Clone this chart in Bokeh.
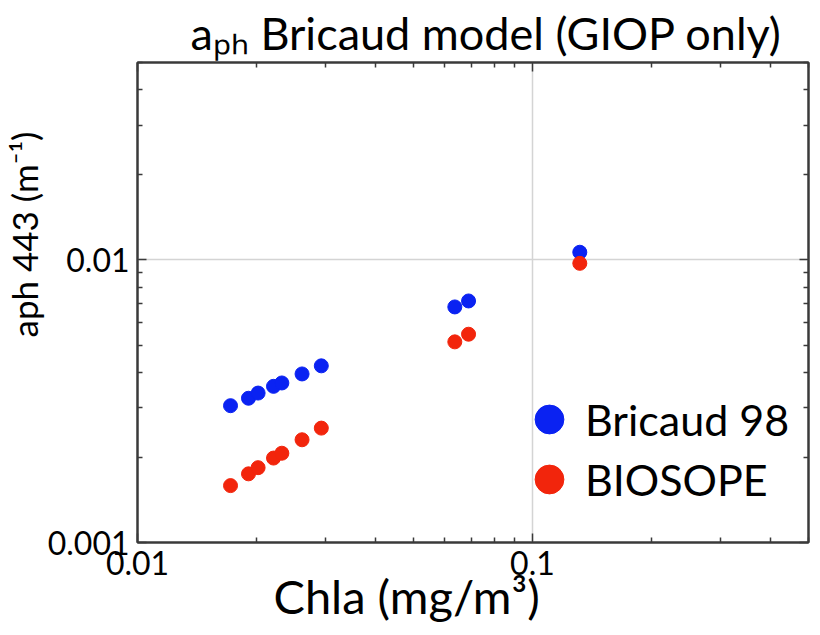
from bokeh.embed import file_html
from bokeh.models import (ColumnDataSource, FixedTicker, Legend, LegendItem,
                          LogAxis, Range1d, Title, CustomJSTickFormatter)
from bokeh.plotting import figure
from bokeh.resources import INLINE

# Chlorophyll concentration (mg/m^3) and phytoplankton absorption at 443 nm (1/m)
chla = [0.0172, 0.0191, 0.0202, 0.0221, 0.0232, 0.0261, 0.0292, 0.0636, 0.0689, 0.1318]
aph_bricaud98 = [0.00305, 0.00324, 0.00338, 0.00357, 0.00367, 0.00395, 0.00422,
                 0.00682, 0.00716, 0.01065]
aph_biosope = [0.00159, 0.00175, 0.00184, 0.00199, 0.00207, 0.00231, 0.00254,
               0.00513, 0.00546, 0.00973]

series_names = ["Bricaud 98", "BIOSOPE"]
series_colors = ["#0a22f2", "#f2250c"]

x_tick_values = [0.01, 0.1]
x_tick_labels = ["0.01", "0.1"]
y_tick_values = [0.001, 0.01]
y_tick_labels = ["0.001", "0.01"]

X_MIN, X_MAX = 0.01, 0.5
Y_MIN, Y_MAX = 0.001, 0.05

FONT = "Lato"
FRAME_COLOR = "#3a3a3a"

# decade ticks with minor ticks at 2..9 of each decade
decades = [0.0001, 0.001, 0.01, 0.1, 1.0]
minor_ticks = [d * m for d in decades for m in range(2, 10)]

p = figure(
    width=820, height=635,
    min_border_left=137, min_border_right=12,
    min_border_top=61, min_border_bottom=93,
    x_axis_type="log", y_axis_type="log",
    x_range=Range1d(X_MIN, X_MAX), y_range=Range1d(Y_MIN, Y_MAX),
    output_backend="svg", toolbar_location=None,
)
p.background_fill_color = "white"
p.border_fill_color = "white"
p.outline_line_color = FRAME_COLOR
p.outline_line_width = 2

# plot title, subscript written with unicode subscript letters
p.title.text = "a\u209a\u2095 Bricaud model (GIOP only)"
p.title.align = "left"
p.title.offset = 53
p.title.standoff = 6
p.title.text_font = FONT
p.title.text_font_size = "45px"
p.title.text_font_style = "normal"
p.title.text_color = "black"

# grid lines only at the decade marks
p.xgrid.ticker = FixedTicker(ticks=[0.1])
p.ygrid.ticker = FixedTicker(ticks=[0.01])
for g in (p.xgrid, p.ygrid):
    g.grid_line_color = "#d4d4d4"
    g.grid_line_width = 1.5

plain = CustomJSTickFormatter(code="return ''")


def style_axis(ax):
    ax.ticker = FixedTicker(ticks=decades, minor_ticks=minor_ticks)
    ax.formatter = plain
    ax.axis_line_color = FRAME_COLOR
    ax.axis_line_width = 2
    ax.major_tick_line_color = FRAME_COLOR
    ax.minor_tick_line_color = FRAME_COLOR
    ax.major_tick_line_width = 1.5
    ax.minor_tick_line_width = 1.5
    ax.major_tick_in = 9
    ax.major_tick_out = 0
    ax.minor_tick_in = 5
    ax.minor_tick_out = 0
    ax.major_label_text_font = FONT
    ax.major_label_text_color = "black"


xax = p.xaxis[0]
yax = p.yaxis[0]
for ax in (xax, yax):
    style_axis(ax)
    ax.major_label_text_font_size = "32px"

xax.major_label_overrides = dict(zip(x_tick_values, x_tick_labels))
xax.major_label_standoff = 8
yax.major_label_overrides = dict(zip(y_tick_values, y_tick_labels))
yax.major_label_standoff = 8

top_axis = LogAxis()
right_axis = LogAxis()
for ax in (top_axis, right_axis):
    style_axis(ax)
    ax.major_label_text_font_size = "0px"
    ax.major_label_standoff = 0
p.add_layout(top_axis, "above")
p.add_layout(right_axis, "right")

# axis titles
p.add_layout(Title(text="Chla (mg/m\u00b3)", align="left", offset=136, standoff=-24,
                   text_font=FONT, text_font_size="47px", text_font_style="normal",
                   text_color="black"), "below")
p.add_layout(Title(text="aph 443 (m\u207b\u00b9)", align="left", offset=205, standoff=0,
                   text_font=FONT, text_font_size="35px", text_font_style="normal",
                   text_color="black"), "left")

src = ColumnDataSource(dict(chla=chla, b98=aph_bricaud98, bio=aph_biosope))
r_b98 = p.scatter("chla", "b98", source=src, size=14, color=series_colors[0])
r_bio = p.scatter("chla", "bio", source=src, size=14, color=series_colors[1])

# one legend per series so the two rows can sit closer than the glyph box
for renderer, name, loc in ((r_b98, series_names[0], (376, 85)),
                            (r_bio, series_names[1], (376, 25))):
    p.add_layout(Legend(
        items=[LegendItem(label=name, renderers=[renderer])],
        location=loc,
        glyph_width=72, glyph_height=76, label_standoff=0,
        padding=0, margin=0,
        label_text_font=FONT, label_text_font_size="43px",
        label_text_baseline="middle", label_text_color="black",
        background_fill_alpha=0, border_line_alpha=0,
    ), "center")

open("out.html", "w").write(file_html(p, INLINE))
